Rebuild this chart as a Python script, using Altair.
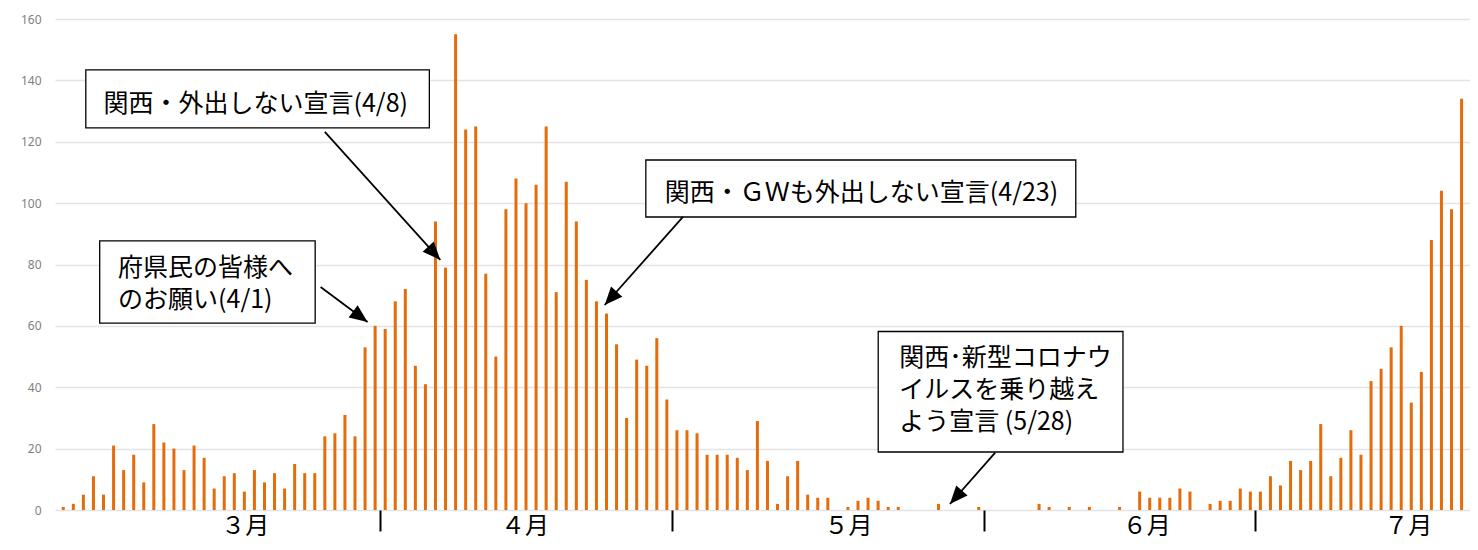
import math
import altair as alt
import pandas as pd

# ---------------- data ----------------
cases = [1, 2, 5, 11, 5, 21, 13, 18, 9, 28, 22, 20, 13, 21, 17, 7, 11, 12, 6, 13, 9,
         12, 7, 15, 12, 12, 24, 25, 31, 24, 53, 60, 59, 68, 72, 47, 41, 94, 79, 155, 124,
         125, 77, 50, 98, 108, 100, 106, 125, 71, 107, 94, 75, 68, 64, 54, 30, 49, 47, 56, 36,
         26, 26, 25, 18, 18, 18, 17, 13, 29, 16, 2, 11, 16, 5, 4, 4, 0, 1, 3, 4, 3, 1, 1,
         0, 0, 0, 2, 0, 0, 0, 1, 0, 0, 0, 0, 0, 2, 1, 0, 1, 0, 1, 0, 0, 1, 0, 6, 4, 4, 4, 7, 6, 0, 2, 3, 3, 7,
         6, 6, 11, 8, 16, 13, 16, 28, 11, 17, 26, 18, 42, 46, 53, 60, 35, 45, 88, 104, 98, 134]
days = list(range(1, len(cases) + 1))

month_labels = ["３月", "４月", "５月", "６月", "７月"]
month_bar_counts = [32, 29, 31, 27, 21]
month_label_day = [19.1, 46.9, 79.05, 108.7, 134.7]

y_ticks = [0, 20, 40, 60, 80, 100, 120, 140, 160]

note_texts = [
    "府県民の皆様へ\nのお願い(4/1)",
    "関西・外出しない宣言(4/8)",
    "関西・ＧＷも外出しない宣言(4/23)",
    "関西･新型コロナウ\nイルスを乗り越え\nよう宣言 (5/28)",
]

# ---------------- layout (in data units: bar number / case count) ----------------
X_DOMAIN = [0.674, 140.34]
Y_DOMAIN = [0, 160]
PLOT_W, PLOT_H = 1415, 491
PX_X = PLOT_W / (X_DOMAIN[1] - X_DOMAIN[0])
PX_Y = PLOT_H / (Y_DOMAIN[1] - Y_DOMAIN[0])

# box: (x0, x1, y_top, y_bottom), first text line anchor (x, y_center), arrow (x0, y0, x1, y1)
note_boxes = [(4.62, 26.04, 87.7, 60.9), (3.24, 37.39, 143.4, 124.5),
              (58.91, 101.65, 114.05, 95.48), (82.01, 106.34, 58.17, 18.9)]
note_text_at = [(6.45, 78.9), (5.0, 132.3), (60.8, 103.3), (84.1, 49.4)]
note_arrows = [(26.58, 72.67, 31.25, 61.26), (27.0, 123.2, 38.48, 81.5),
               (62.6, 95.5, 54.82, 66.8), (93.64, 18.67, 89.14, 1.95)]

BAR_COLOR = "#E46C0A"
JP_FONT = "Noto Sans CJK JP"

# ---------------- tables ----------------
bars = pd.DataFrame({"day": days, "cases": cases})

bounds = []
acc = 0
for c in month_bar_counts[:-1]:
    acc += c
    bounds.append(acc + 0.5)

months = pd.DataFrame({"pos": month_label_day, "label": month_labels})

boxes = pd.DataFrame([{"x0": b[0], "x1": b[1], "y0": b[2], "y1": b[3]} for b in note_boxes])
texts = pd.DataFrame([{"x": t[0], "y": t[1], "text": s} for t, s in zip(note_text_at, note_texts)])
arr_rows = []
for a in note_arrows:
    dx = (a[2] - a[0]) * PX_X
    dy = -(a[3] - a[1]) * PX_Y
    ang = math.degrees(math.atan2(dx, -dy)) % 360
    arr_rows.append({"x0": a[0], "y0": a[1], "x1": a[2], "y1": a[3], "ang": ang})
arrows = pd.DataFrame(arr_rows)

xs = alt.Scale(domain=X_DOMAIN, nice=False, zero=False)
ys = alt.Scale(domain=Y_DOMAIN, nice=False)

bar_layer = alt.Chart(bars).mark_bar(size=3, color=BAR_COLOR).encode(
    x=alt.X("day:Q", scale=xs,
            axis=alt.Axis(values=bounds, labels=False, title=None, grid=False, domain=False,
                          tickSize=21, tickColor="black", tickWidth=2)),
    y=alt.Y("cases:Q", scale=ys,
            axis=alt.Axis(values=y_ticks, title=None, domain=False, ticks=False,
                          labelFontSize=12, labelColor="#7F7F7F", labelFont="Noto Sans",
                          labelPadding=14, gridColor="#E4E4E4", gridWidth=1.6)),
)

month_layer = alt.Chart(months).mark_text(
    fontSize=24, font=JP_FONT, color="black", baseline="middle", align="center"
).encode(x=alt.X("pos:Q", scale=xs), y=alt.value(508), text="label:N")

box_layer = alt.Chart(boxes).mark_rect(fill="white", stroke="black", strokeWidth=1.3).encode(
    x=alt.X("x0:Q", scale=xs), x2="x1:Q",
    y=alt.Y("y0:Q", scale=ys), y2="y1:Q")

text_layer = alt.Chart(texts).mark_text(
    fontSize=25, font=JP_FONT, color="black", align="left", baseline="middle",
    lineBreak="\n", lineHeight=32
).encode(x=alt.X("x:Q", scale=xs), y=alt.Y("y:Q", scale=ys), text="text:N")

line_layer = alt.Chart(arrows).mark_rule(color="black", strokeWidth=1.8).encode(
    x=alt.X("x0:Q", scale=xs), y=alt.Y("y0:Q", scale=ys), x2="x1:Q", y2="y1:Q")

head_layer = alt.Chart(arrows).mark_point(
    shape="M0,0L0.42,1L-0.42,1Z", filled=True, color="black", opacity=1, size=1296
).encode(x=alt.X("x1:Q", scale=xs), y=alt.Y("y1:Q", scale=ys),
         angle=alt.Angle("ang:Q", scale=None))

chart = alt.layer(bar_layer, month_layer, box_layer, text_layer, line_layer, head_layer).properties(
    width=PLOT_W, height=PLOT_H,
    autosize=alt.AutoSizeParams(type="none"),
    padding={"left": 47, "top": 11, "right": 0, "bottom": 32},
    background="white",
).configure_view(stroke=None)

chart.save("out.html", embed_options={"renderer": "svg", "actions": False})
